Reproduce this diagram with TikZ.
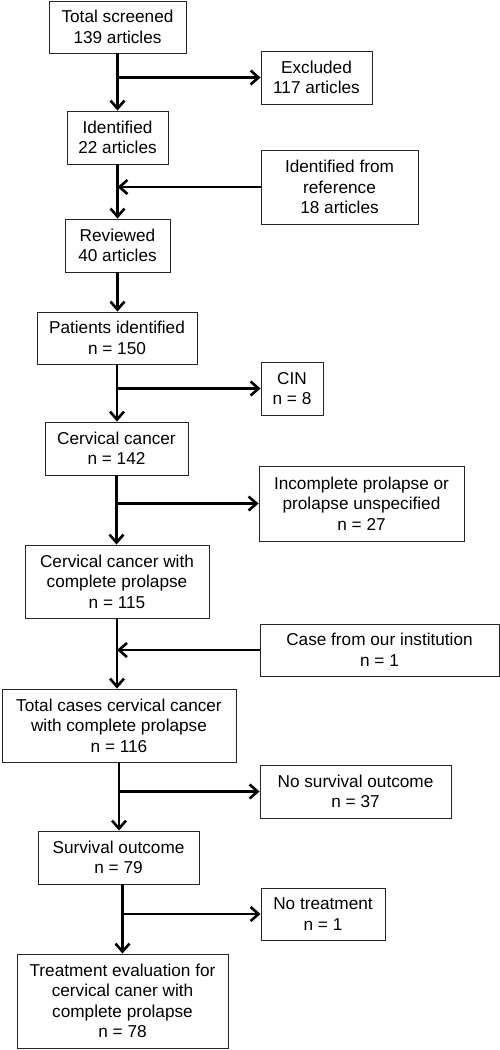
\documentclass[tikz,border=0pt]{standalone}
\usepackage{fontspec}
\setmainfont{Liberation Sans}
\usetikzlibrary{arrows.meta}
\begin{document}
\begin{tikzpicture}[x=1pt,y=-1pt,
  box/.style={draw=black!85, line width=0.9pt, align=center, inner sep=0pt,
    font=\fontsize{17.2}{20.5}\selectfont},
  arr/.style={line width=2.8pt, -{Straight Barb[length=8pt,width=14pt,line width=2.6pt]}}]
\useasboundingbox (0,0) rectangle (500,1050);
\node[box, minimum width=137, minimum height=52] (ts) at (117.5,27) {Total screened\\139 articles};
\node[box, minimum width=111, minimum height=53] (ex) at (316.5,77.5) {Excluded\\117 articles};
\node[box, minimum width=101, minimum height=53] (id) at (117.5,137.5) {Identified\\22 articles};
\node[box, minimum width=157, minimum height=74] (ref) at (339.5,187) {Identified from\\reference\\18 articles};
\node[box, minimum width=105, minimum height=53] (rev) at (117.5,245.5) {Reviewed\\40 articles};
\node[box, minimum width=160, minimum height=52] (pat) at (117,338) {Patients identified\\n = 150};
\node[box, minimum width=62, minimum height=53] (cin) at (292,388.5) {CIN\\n = 8};
\node[box, minimum width=143, minimum height=53] (cc) at (116.5,448.5) {Cervical cancer\\n = 142};
\node[box, minimum width=205, minimum height=75] (inc) at (361.5,503.5) {Incomplete prolapse or\\prolapse unspecified\\n = 27};
\node[box, minimum width=184, minimum height=73] (ccp) at (117,581.5) {Cervical cancer with\\complete prolapse\\n = 115};
\node[box, minimum width=239, minimum height=52] (case) at (379.5,650) {Case from our institution\\n = 1};
\node[box, minimum width=234, minimum height=73] (tot) at (119,725.5) {Total cases cervical cancer\\with complete prolapse\\n = 116};
\node[box, minimum width=191, minimum height=53] (ns) at (355.5,791.5) {No survival outcome\\n = 37};
\node[box, minimum width=161, minimum height=53] (so) at (118.5,857.5) {Survival outcome\\n = 79};
\node[box, minimum width=124, minimum height=52] (nt) at (323,914) {No treatment\\n = 1};
\node[box, minimum width=211, minimum height=94] (te) at (122.5,1001) {Treatment evaluation for\\cervical caner with\\complete prolapse\\n = 78};
% main line
\draw[arr] (ts.south) -- (ts.south |- id.north);
\draw[arr] (id.south) -- (id.south |- rev.north);
\draw[arr] (rev.south) -- (rev.south |- pat.north);
\draw[arr] (pat.south) -- (pat.south |- cc.north);
\draw[arr] (cc.south) -- (cc.south |- ccp.north);
\draw[arr] (ccp.south) -- (ccp.south |- tot.north);
\draw[arr] (tot.south) -- (tot.south |- so.north);
\draw[arr] ([xshift=4pt]so.south) -- ([xshift=4pt]so.south |- te.north);
% branches
\draw[arr] (ts.south |- ex.west) -- (ex.west);
\draw[arr] (ref.west) -- (id.south |- ref.west);
\draw[arr] (pat.south |- cin.west) -- (cin.west);
\draw[arr] (cc.south |- inc.west) -- (inc.west);
\draw[arr] (case.west) -- (ccp.south |- case.west);
\draw[arr] (tot.south |- ns.west) -- (ns.west);
\draw[arr] ([xshift=4pt]so.south |- nt.west) -- (nt.west);
\end{tikzpicture}
\end{document}
